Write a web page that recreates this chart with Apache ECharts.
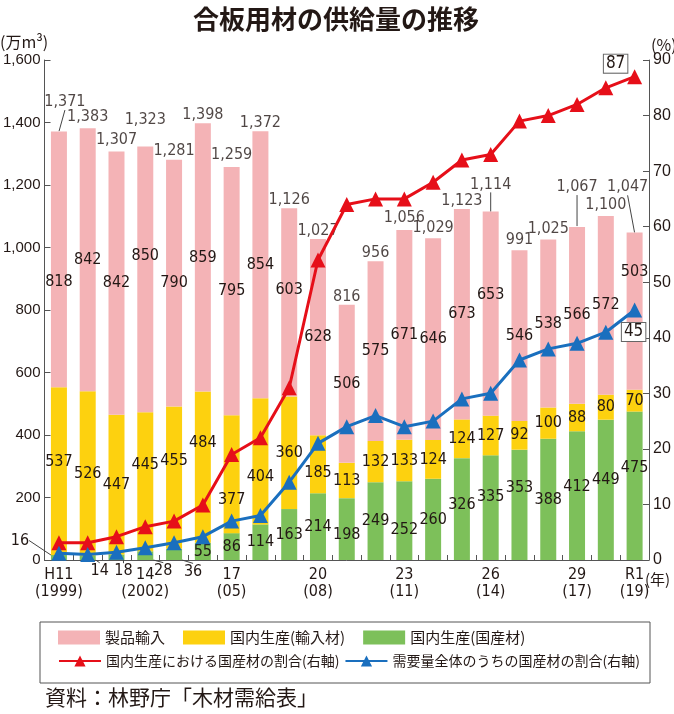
<!DOCTYPE html>
<html><head><meta charset="utf-8">
<script src="https://cdn.jsdelivr.net/npm/echarts@6/dist/echarts.min.js"></script>
<style>html,body{margin:0;padding:0;background:#fff}#c{width:674px;height:714px}</style>
</head><body><div id="c"></div>
<script>
// ---- data ----
const categories = ['H11','H12','H13','H14','H15','H16','H17','H18','H19','H20','H21','H22','H23','H24','H25','H26','H27','H28','H29','H30','R1'];
const tickText = {'H11':'H11\n(1999)','H14':'14\n(2002)','H17':'17\n(05)','H20':'20\n(08)','H23':'23\n(11)','H26':'26\n(14)','H29':'29\n(17)','R1':'R1\n(19)'};
const importVals    = [818,842,842,850,790,859,795,854,603,628,506,575,671,646,673,653,546,538,566,572,503];
const domImportVals = [537,526,447,445,455,484,377,404,360,185,113,132,133,124,124,127,92,100,88,80,70];
const domDomVals    = [16,14,18,28,36,55,86,114,163,214,198,249,252,260,326,335,353,388,412,449,475];
const totals        = [1371,1383,1307,1323,1281,1398,1259,1372,1126,1027,816,956,1056,1029,1123,1114,991,1025,1067,1100,1047];
const shareProd     = [3.1,3.1,4.2,6,7,9.9,19,22,31,54,64,65,65,68,72,73,79,80,82,85,87];
const shareTotal    = [1.2,1.0,1.4,2.2,3.1,4.2,7,8,14,21,24,26,24,25,29,30,36,38,39,41,45];
const leftTicks = {min:0, max:1600, interval:200};
const rightTicks = {min:0, max:90, interval:10};

// ---- styles ----
const NUM = '"Liberation Sans Narrow","DejaVu Sans Condensed",sans-serif';
const SANS = '"Liberation Sans",Arial,sans-serif';
const CJK = '"Noto Sans CJK JP",sans-serif';
const TXT = '#231815';
const PINK = '#F4B3B6', YEL = '#FDD10F', GRN = '#7DC05A', RED = '#E60F19', BLUE = '#1A6FBE';

const pinkOff = {0:[0,22],3:[0,-24],8:[0,-13],15:[0,-19],20:[0,-39]};
const yelOff = {0:[0,-9],3:[0,-17],4:[0,-17],5:[0,-24],6:[0,26],7:[0,16],9:[0,9]};
const grnOff = {0:[-39,-17],1:[12,13],2:[7,14],3:[18,15],4:[19,17],10:[0,6],12:[0,9],14:[0,-4],15:[0,-11],16:[0,-17],18:[0,-9],19:[0,-10],20:[0,-18]};
const totOff = {0:[6,-21],1:[0,-2],2:[0,-3],3:[0,-18],6:[0,-3],12:[0,-4],13:[0,-2],15:[0,-19],16:[0,-2],17:[0,-2],18:[0,-31],19:[0,-3],20:[-7,-37]};
const leaderTot = [0,15,18,20];

function layoutFrom(map){
  return function(p){ const o = map[p.dataIndex]; return o ? {dx:o[0], dy:o[1]} : {}; };
}
const numLabel = {show:true, position:'inside', color:TXT, fontFamily:NUM, fontSize:16};
const last = categories.length - 1;

const chart = echarts.init(document.getElementById('c'), null, {renderer:'canvas'});
chart.setOption({
  animation:false,
  backgroundColor:'#fff',
  title:{text:'合板用材の供給量の推移', left:188, top:1,
    textStyle:{fontFamily:CJK, fontSize:26, fontWeight:'bold', color:TXT}},
  grid:{left:44, right:25, top:60, bottom:154, containLabel:false},
  legend:[
    {data:['製品輸入','国内生産(輸入材)','国内生産(国産材)'], left:58, top:630, padding:0,
     itemWidth:42, itemHeight:14, itemGap:18, icon:'rect',
     textStyle:{fontFamily:CJK, fontSize:15, color:TXT}},
    {data:['国内生産における国産材の割合(右軸)','需要量全体のうちの国産材の割合(右軸)'], left:58, top:654, padding:0,
     itemWidth:42, itemHeight:14, itemGap:5,
     textStyle:{fontFamily:CJK, fontSize:14, color:TXT}}
  ],
  xAxis:{type:'category', data:categories, boundaryGap:true,
    axisLine:{lineStyle:{color:'#555', width:1}},
    axisTick:{show:true, inside:true, length:5, interval:0, lineStyle:{color:'#555'}},
    axisLabel:{interval:(i, v) => v in tickText, formatter:(v) => tickText[v] || '',
      margin:6, color:TXT, fontFamily:NUM, fontSize:16, lineHeight:17}},
  yAxis:[
    {type:'value', min:leftTicks.min, max:leftTicks.max, interval:leftTicks.interval,
     axisLine:{show:true, lineStyle:{color:'#555'}}, splitLine:{show:false},
     axisTick:{show:true, inside:true, length:6, lineStyle:{color:'#555'}},
     axisLabel:{margin:4, color:TXT, fontFamily:SANS, fontSize:15,
       formatter:(v) => v.toLocaleString('en-US')}},
    {type:'value', position:'right', min:rightTicks.min, max:rightTicks.max, interval:rightTicks.interval,
     axisLine:{show:true, lineStyle:{color:'#555'}}, splitLine:{show:false},
     axisTick:{show:true, inside:true, length:6, lineStyle:{color:'#555'}},
     axisLabel:{margin:4, color:TXT, fontFamily:SANS, fontSize:16}}
  ],
  series:[
    {name:'国内生産(国産材)', type:'bar', stack:'s', barWidth:16, itemStyle:{color:GRN},
     data:domDomVals.map((v,i) => i < 5 ? {value:v, labelLine:{show:true}} : v),
     label:numLabel, labelLine:{show:false, lineStyle:{color:'#444', width:1}},
     labelLayout:layoutFrom(grnOff)},
    {name:'国内生産(輸入材)', type:'bar', stack:'s', barWidth:16, itemStyle:{color:YEL},
     data:domImportVals, label:numLabel, labelLayout:layoutFrom(yelOff)},
    {name:'製品輸入', type:'bar', stack:'s', barWidth:16, itemStyle:{color:PINK},
     data:importVals, label:numLabel, labelLayout:layoutFrom(pinkOff)},
    {name:'total', type:'scatter', symbolSize:1, itemStyle:{color:'rgba(0,0,0,0)'}, z:3,
     data:totals.map((v,i) => leaderTot.includes(i) ? {value:v, labelLine:{show:true}} : v),
     label:{show:true, position:'top', distance:0, color:TXT, fontFamily:NUM, fontSize:16,
       formatter:(p) => p.value.toLocaleString('en-US')},
     labelLine:{show:false, lineStyle:{color:'#444', width:1}},
     labelLayout:layoutFrom(totOff)},
    {name:'国内生産における国産材の割合(右軸)', type:'line', yAxisIndex:1, z:5,
     symbol:'triangle', symbolSize:15, lineStyle:{color:RED, width:3}, itemStyle:{color:RED},
     data:shareProd.map((v,i) => i === last ? {value:v, label:{show:true, position:'inside', offset:[-19,-13],
       formatter:'87', color:TXT, fontFamily:NUM, fontSize:17, backgroundColor:'#fff',
       borderColor:'#666', borderWidth:1, padding:[1,2,0,2]}} : v)},
    {name:'需要量全体のうちの国産材の割合(右軸)', type:'line', yAxisIndex:1, z:5,
     symbol:'triangle', symbolSize:15, lineStyle:{color:BLUE, width:3}, itemStyle:{color:BLUE},
     data:shareTotal.map((v,i) => i === last ? {value:v, label:{show:true, position:'inside', offset:[-1,22],
       formatter:'45', color:TXT, fontFamily:NUM, fontSize:17, backgroundColor:'#fff',
       borderColor:'#666', borderWidth:1, padding:[1,2,0,2]}} : v)}
  ],
  graphic:[
    {type:'rect', shape:{x:40, y:622, width:610, height:61}, style:{fill:'none', stroke:'#555', lineWidth:1}, silent:true},
    {type:'text', x:0, y:42, style:{text:'(万m³)', fill:TXT, font:'16px "Noto Sans CJK JP"', textVerticalAlign:'middle'}},
    {type:'text', x:651, y:45, style:{text:'(%)', fill:TXT, font:'16px "Noto Sans CJK JP"', textVerticalAlign:'middle'}},
    {type:'text', x:645, y:579, style:{text:'(年)', fill:TXT, font:'15px "Noto Sans CJK JP"', textVerticalAlign:'middle'}},
    {type:'text', x:45, y:697, style:{text:'資料：林野庁「木材需給表」', fill:TXT, font:'21px "Noto Sans CJK JP"', textVerticalAlign:'middle'}}
  ]
});
</script></body></html>
